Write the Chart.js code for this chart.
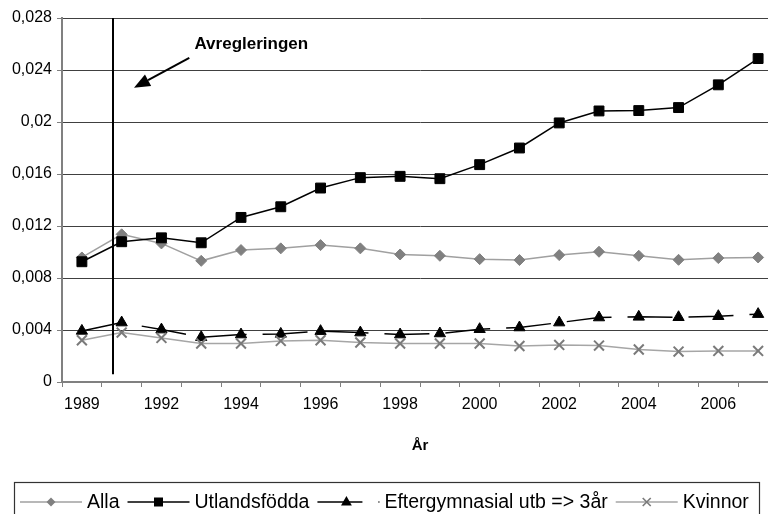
<!DOCTYPE html>
<html>
<head>
<meta charset="utf-8">
<script src="https://cdn.jsdelivr.net/npm/chart.js@4/dist/chart.umd.min.js"></script>
<style>
html,body{margin:0;padding:0;background:#fff;overflow:hidden}
#wrap{width:790px;height:514px}
</style>
</head>
<body>
<div id="wrap"><canvas id="c" width="790" height="514"></canvas></div>
<script>
// ---- data ----
const years = ['1989','1991','1992','1993','1994','1995','1996','1997','1998','1999','2000','2001','2002','2003','2004','2005','2006','2007'];
const shownYearLabels = ['1989','1992','1994','1996','1998','2000','2002','2004','2006'];
const yTickLabels = ['0','0,004','0,008','0,012','0,016','0,02','0,024','0,028'];
const seriesNames = ['Alla','Utlandsfödda','Eftergymnasial utb => 3år','Kvinnor'];
const alla = [0.00958,0.01136,0.01066,0.00932,0.01015,0.01028,0.01053,0.01028,0.00981,0.00971,0.00945,0.00938,0.00976,0.01002,0.00971,0.00940,0.00953,0.00958];
const utlandsfodda = [0.00925,0.01079,0.01109,0.01071,0.01266,0.01348,0.01492,0.01572,0.01582,0.01564,0.01672,0.01800,0.01993,0.02085,0.02088,0.02111,0.02286,0.02488];
const eftergymnasial = [0.00393,0.00457,0.00403,0.00344,0.00365,0.00370,0.00391,0.00380,0.00365,0.00373,0.00406,0.00419,0.00457,0.00496,0.00501,0.00498,0.00506,0.00522];
const kvinnor = [0.00321,0.00380,0.00339,0.00296,0.00296,0.00316,0.00321,0.00304,0.00296,0.00296,0.00296,0.00277,0.00285,0.00280,0.00250,0.00234,0.00239,0.00239];
const annotationText = 'Avregleringen';
const axisTitle = 'År';

// annotation anchor points in data units (category index, value)
const deregLine = {index: 0.79, from: 0.028, to: 0.0006};
const arrowDef = {from: [2.70, 0.02494], to: [1.31, 0.02263]};
const labelDef = {index: 2.83, value: 0.02594};

const FONT = '"Liberation Sans", Arial, Helvetica, sans-serif';

const styles = [
  {line:'#a0a0a0', fill:'#808080', stroke:'#808080', point:'rectRot', r:5.5, bw:1, dash:[]},
  {line:'#000000', fill:'#000000', stroke:'#000000', point:'rect', r:7, bw:1, dash:[]},
  {line:'#000000', fill:'#000000', stroke:'#000000', point:'triangle', r:6.5, bw:1, dash:[45,16]},
  {line:'#a6a6a6', fill:'#808080', stroke:'#7a7a7a', point:'crossRot', r:7, bw:2, dash:[]}
];
const seriesData = [alla, utlandsfodda, eftergymnasial, kvinnor];

const datasets = seriesData.map((d, i) => ({
  label: seriesNames[i],
  data: d,
  borderColor: styles[i].line,
  borderWidth: 1.5,
  borderDash: styles[i].dash,
  backgroundColor: styles[i].fill,
  pointStyle: styles[i].point,
  pointRadius: styles[i].r,
  pointBackgroundColor: styles[i].fill,
  pointBorderColor: styles[i].stroke,
  pointBorderWidth: styles[i].bw,
  tension: 0,
  fill: false,
  order: 4 - i
}));

function drawMarker(ctx, type, x, y, r, fill, stroke) {
  ctx.save();
  ctx.fillStyle = fill; ctx.strokeStyle = stroke; ctx.lineWidth = 1;
  ctx.beginPath();
  if (type === 'rectRot') {
    ctx.moveTo(x, y - r); ctx.lineTo(x + r, y); ctx.lineTo(x, y + r); ctx.lineTo(x - r, y); ctx.closePath();
    ctx.fill();
  } else if (type === 'rect') {
    ctx.rect(x - r, y - r, 2 * r, 2 * r); ctx.fill();
  } else if (type === 'triangle') {
    ctx.moveTo(x, y - r); ctx.lineTo(x + r * 0.9, y + r * 0.6); ctx.lineTo(x - r * 0.9, y + r * 0.6); ctx.closePath();
    ctx.fill();
  } else if (type === 'crossRot') {
    ctx.lineWidth = 1.6;
    ctx.moveTo(x - r, y - r); ctx.lineTo(x + r, y + r);
    ctx.moveTo(x + r, y - r); ctx.lineTo(x - r, y + r);
    ctx.stroke();
  }
  ctx.restore();
}

const annotationPlugin = {
  id: 'annot',
  afterDatasetsDraw(chart) {
    const ctx = chart.ctx, xs = chart.scales.x, ys = chart.scales.y;
    ctx.save();
    // vertical line
    const vx = Math.round(xs.getPixelForValue(deregLine.index));
    ctx.strokeStyle = '#000'; ctx.lineWidth = 2;
    ctx.beginPath();
    ctx.moveTo(vx, ys.getPixelForValue(deregLine.from));
    ctx.lineTo(vx, ys.getPixelForValue(deregLine.to));
    ctx.stroke();
    // arrow
    const x1 = xs.getPixelForValue(arrowDef.from[0]), y1 = ys.getPixelForValue(arrowDef.from[1]);
    const x2 = xs.getPixelForValue(arrowDef.to[0]), y2 = ys.getPixelForValue(arrowDef.to[1]);
    const ang = Math.atan2(y2 - y1, x2 - x1);
    const headLen = 16, headW = 6.5;
    const bx = x2 - headLen * Math.cos(ang), by = y2 - headLen * Math.sin(ang);
    ctx.beginPath(); ctx.moveTo(x1, y1); ctx.lineTo(bx, by); ctx.stroke();
    ctx.fillStyle = '#000';
    ctx.beginPath();
    ctx.moveTo(x2, y2);
    ctx.lineTo(bx + headW * Math.sin(ang), by - headW * Math.cos(ang));
    ctx.lineTo(bx - headW * Math.sin(ang), by + headW * Math.cos(ang));
    ctx.closePath(); ctx.fill();
    // label
    ctx.font = 'bold 17px ' + FONT;
    ctx.textAlign = 'left'; ctx.textBaseline = 'middle';
    ctx.fillText(annotationText, xs.getPixelForValue(labelDef.index), ys.getPixelForValue(labelDef.value));
    ctx.restore();
  }
};

const legendPlugin = {
  id: 'boxLegend',
  afterDraw(chart) {
    const ctx = chart.ctx;
    ctx.save();
    ctx.strokeStyle = '#333'; ctx.lineWidth = 1.2;
    ctx.strokeRect(14.5, 482.5, 745, 60);
    ctx.font = '19.5px ' + FONT;
    ctx.textBaseline = 'alphabetic'; ctx.textAlign = 'left';
    let x = 20;
    const ly = 502, symW = 62;
    chart.data.datasets.forEach((ds, i) => {
      const st = styles[i];
      ctx.save();
      ctx.strokeStyle = st.line; ctx.lineWidth = 1.5;
      ctx.setLineDash(st.dash);
      ctx.beginPath(); ctx.moveTo(x, ly); ctx.lineTo(x + symW, ly); ctx.stroke();
      ctx.restore();
      const mx = i === 2 ? x + 29 : x + symW / 2;
      drawMarker(ctx, st.point, mx, ly, i === 3 ? 4 : (i === 2 ? 6 : 4.5), st.fill, st.stroke);
      ctx.fillStyle = '#000';
      ctx.fillText(ds.label, x + symW + 5, 508);
      x += symW + 5 + ctx.measureText(ds.label).width + 8;
    });
    ctx.restore();
  }
};

new Chart(document.getElementById('c'), {
  type: 'line',
  data: {labels: years, datasets},
  plugins: [annotationPlugin, legendPlugin],
  options: {
    responsive: false,
    animation: false,
    layout: {padding: {left: 0, right: 12, top: 18, bottom: 54}},
    plugins: {legend: {display: false}, tooltip: {enabled: false}},
    scales: {
      x: {
        type: 'category',
        offset: true,
        grid: {offset: true, drawOnChartArea: false, drawTicks: true, tickLength: 5, color: '#808080', lineWidth: 1},
        border: {color: '#808080', width: 2},
        ticks: {
          autoSkip: false, maxRotation: 0, padding: 8, color: '#000',
          font: {family: FONT, size: 16},
          callback: function(v, i) { const l = this.getLabelForValue(v); return shownYearLabels.includes(l) ? l : ''; }
        },
        title: {display: true, text: axisTitle, color: '#000', font: {family: FONT, size: 15, weight: 'bold'}, padding: {top: 0, bottom: 5}},
        afterFit: s => { s.height = 78; }
      },
      y: {
        min: 0, max: 0.028,
        grid: {
          color: c => (c.tick && c.tick.value === 0) ? 'rgba(0,0,0,0)' : '#404040',
          tickColor: '#808080', tickLength: 5, lineWidth: 1
        },
        border: {color: '#808080', width: 2},
        ticks: {
          stepSize: 0.004, padding: 5, color: '#000',
          font: {family: FONT, size: 16},
          callback: v => yTickLabels[Math.round(v / 0.004)]
        },
        afterFit: s => { s.width = 62; }
      }
    }
  }
});
</script>
</body>
</html>
